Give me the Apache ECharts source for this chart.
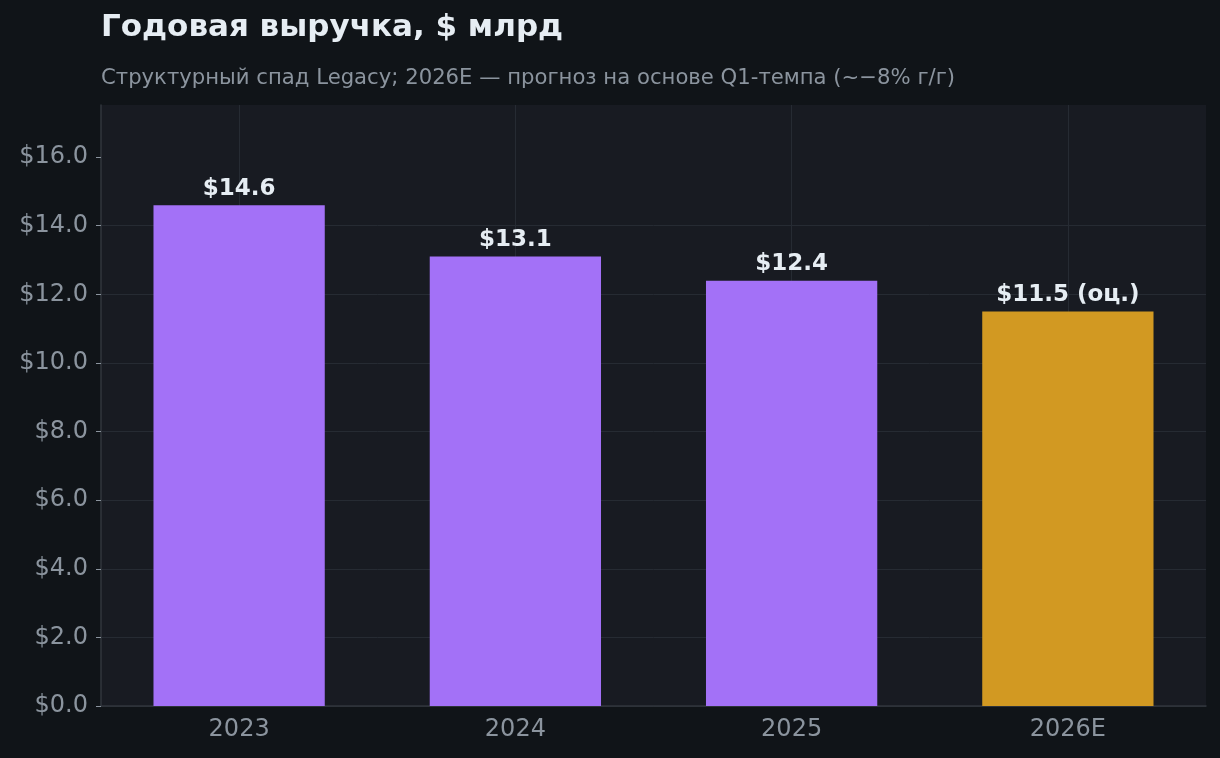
<!DOCTYPE html>
<html>
<head>
<meta charset="utf-8">
<title>Годовая выручка</title>
<script src="https://cdn.jsdelivr.net/npm/echarts@6/dist/echarts.min.js"></script>
<style>
  html, body { margin: 0; padding: 0; background: #101418; }
  #chart { width: 1220px; height: 758px; }
</style>
</head>
<body>
<div id="chart"></div>
<script>
// данные
var categories = ['2023', '2024', '2025', '2026E'];
var revenue = [14.6, 13.1, 12.4, 11.5];
var isEstimate = [false, false, false, true];
var yTicks = [0, 2, 4, 6, 8, 10, 12, 14, 16];

var purple = '#a371f7';
var gold = '#d29922';
var font = '"DejaVu Sans", sans-serif';

var chart = echarts.init(document.getElementById('chart'));

var barData = revenue.map(function (v, i) {
  return {
    value: v,
    itemStyle: { color: isEstimate[i] ? gold : purple }
  };
});

chart.setOption({
  backgroundColor: '#101418',
  animation: false,
  textStyle: { fontFamily: font },
  title: [{
    text: 'Годовая выручка, $ млрд',
    left: 101,
    top: 12,
    padding: 0,
    textStyle: { color: '#e6edf3', fontSize: 31, fontWeight: 'bold', fontFamily: font }
  }, {
    text: 'Структурный спад Legacy; 2026E — прогноз на основе Q1-темпа (~−8% г/г)',
    left: 101,
    top: 68,
    padding: 0,
    textStyle: { color: '#8b949e', fontSize: 21.2, fontWeight: 'normal', fontFamily: font }
  }],
  grid: {
    left: 101,
    right: 14,
    top: 105,
    bottom: 52,
    show: true,
    backgroundColor: '#181b22',
    borderWidth: 0
  },
  xAxis: {
    type: 'category',
    data: categories,
    axisLine: { lineStyle: { color: '#30363d', width: 1.5 } },
    axisTick: { alignWithLabel: true, length: 5, lineStyle: { color: '#8b949e' } },
    axisLabel: { color: '#8b949e', fontSize: 24, margin: 12, fontFamily: font },
    splitLine: { show: true, alignWithLabel: true, lineStyle: { color: '#262b33', width: 1 } }
  },
  yAxis: {
    type: 'value',
    min: 0,
    max: 17.52,
    interval: 2,
    axisLine: { show: true, lineStyle: { color: '#30363d', width: 1.5 } },
    axisTick: { show: true, length: 5, customValues: yTicks, lineStyle: { color: '#8b949e' } },
    axisLabel: {
      customValues: yTicks,
      color: '#8b949e',
      fontSize: 24,
      margin: 13,
      fontFamily: font,
      formatter: function (v) { return '$' + v.toFixed(1); }
    },
    splitLine: { show: true, showMaxLine: false, lineStyle: { color: '#262b33', width: 1 } }
  },
  series: [{
    type: 'bar',
    data: barData,
    barWidth: '62%',
    label: {
      show: true,
      position: 'top',
      distance: 5,
      color: '#e6edf3',
      fontSize: 23,
      fontWeight: 'bold',
      fontFamily: font,
      formatter: function (p) {
        var s = '$' + p.value.toFixed(1);
        return isEstimate[p.dataIndex] ? s + ' (оц.)' : s;
      }
    }
  }]
});
</script>
</body>
</html>
